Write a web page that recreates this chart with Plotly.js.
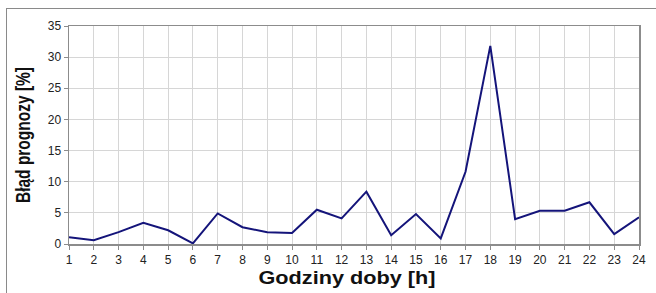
<!DOCTYPE html>
<html>
<head>
<meta charset="utf-8">
<script src="https://cdn.plot.ly/plotly-3.0.1.min.js"></script>
<style>
html,body{margin:0;padding:0;background:#fff;}
#wrap{position:relative;width:656px;height:293px;overflow:hidden;}
#frame{position:absolute;left:6px;top:8px;width:700px;height:320px;border:1.5px solid #8a8a8a;box-sizing:border-box;}
#chart{position:absolute;left:0;top:0;width:656px;height:293px;}
</style>
</head>
<body>
<div id="wrap"><div id="frame"></div><div id="chart"></div></div>
<script>
const hours = [1,2,3,4,5,6,7,8,9,10,11,12,13,14,15,16,17,18,19,20,21,22,23,24];
const errorPct = [1.1,0.6,1.9,3.4,2.2,0.1,4.9,2.7,1.9,1.75,5.5,4.1,8.4,1.4,4.8,0.9,11.6,31.8,4.0,5.35,5.35,6.7,1.6,4.3];
const yTicks = [0,5,10,15,20,25,30,35];
const xTitle = "Godziny doby [h]";
const yTitle = "Błąd prognozy [%]";

const trace = {
  x: hours, y: errorPct, type: 'scatter', mode: 'lines',
  line: {color: '#14147a', width: 2},
  hoverinfo: 'skip'
};
const layout = {
  width: 656, height: 293,
  margin: {l: 69, r: 17, t: 26, b: 49, pad: 0},
  paper_bgcolor: 'rgba(0,0,0,0)',
  plot_bgcolor: '#ffffff',
  showlegend: false,
  font: {family: 'Liberation Sans, Arial, sans-serif', color: '#222'},
  xaxis: {
    range: [1, 24], tickvals: hours, ticktext: hours.map(String),
    showgrid: true, gridcolor: '#d6d6d6', gridwidth: 1,
    showline: true, linecolor: '#8c8c8c', linewidth: 1.5, mirror: true,
    ticks: 'outside', ticklen: 4, tickcolor: '#8c8c8c',
    tickfont: {size: 12, color: '#222'},
    zeroline: false,
    title: {text: xTitle, font: {size: 19, family: 'Liberation Sans, Arial, sans-serif', color: '#111', weight: 'bold'}, standoff: 5}
  },
  yaxis: {
    range: [0, 35], tickvals: yTicks, ticktext: yTicks.map(String),
    showgrid: true, gridcolor: '#d6d6d6', gridwidth: 1,
    showline: true, linecolor: '#8c8c8c', linewidth: 1.5, mirror: true,
    ticks: 'outside', ticklen: 4, tickcolor: '#8c8c8c',
    tickfont: {size: 12, color: '#222'},
    zeroline: false,
    title: {text: yTitle, font: {size: 21, family: 'Liberation Sans, Arial, sans-serif', color: '#111', weight: 'bold'}, standoff: 11}
  }
};
Plotly.newPlot('chart', [trace], layout, {displayModeBar: false, staticPlot: true}).then(function(gd){
  // reference text is slightly stretched horizontally: fit titles to measured lengths
  const xt = gd.querySelector('text.xtitle');
  if (xt) {
    xt.setAttribute('textLength', 177);
    xt.setAttribute('lengthAdjust', 'spacingAndGlyphs');
    xt.setAttribute('x', parseFloat(xt.getAttribute('x')) - 7);
  }
  const yt = gd.querySelector('text.ytitle');
  if (yt) {
    yt.setAttribute('textLength', 136);
    yt.setAttribute('lengthAdjust', 'spacingAndGlyphs');
  }
});
</script>
</body>
</html>
